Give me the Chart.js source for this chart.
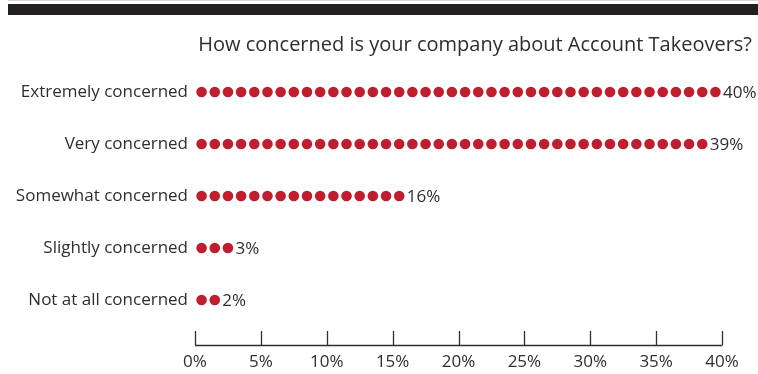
<!DOCTYPE html>
<html>
<head>
<meta charset="utf-8">
<script src="https://cdn.jsdelivr.net/npm/chart.js@4"></script>
<style>
  html, body { margin: 0; padding: 0; background: #fff; }
  #wrap { width: 758px; height: 374px; }
</style>
</head>
<body>
<div id="wrap"><canvas id="concernChart"></canvas></div>
<script>
const categories = ["Extremely concerned", "Very concerned", "Somewhat concerned", "Slightly concerned", "Not at all concerned"]
const shares = [40, 39, 16, 3, 2]
const xTicks = [0, 5, 10, 15, 20, 25, 30, 35, 40]
const title = "How concerned is your company about Account Takeovers?"

const RED = "#be1e2d"
const INK = "#2e2e2e"
const FONT = "'Open Sans', 'Noto Sans', sans-serif"

// one dot per percentage point, centred inside each 1% slot
const dots = []
shares.forEach((v, row) => {
  for (let i = 0; i < v; i++) dots.push({ x: i + 0.5, y: row })
})

const headerPlugin = {
  id: "header",
  beforeDraw(chart) {
    const ctx = chart.ctx
    ctx.save()
    ctx.fillStyle = "#d6d6d6"
    ctx.fillRect(8, 0, 750, 1)
    ctx.fillStyle = "#231f20"
    ctx.fillRect(8, 4, 750, 11)
    ctx.fillStyle = INK
    ctx.font = "20px " + FONT
    ctx.textAlign = "right"
    ctx.textBaseline = "middle"
    ctx.fillText(title, 752, 45)
    ctx.restore()
  }
}

const valueLabels = {
  id: "valueLabels",
  afterDatasetsDraw(chart) {
    const ctx = chart.ctx
    const xs = chart.scales.x, ys = chart.scales.y
    ctx.save()
    ctx.fillStyle = INK
    ctx.font = "17px " + FONT
    ctx.textAlign = "left"
    ctx.textBaseline = "middle"
    shares.forEach((v, row) => {
      ctx.fillText(v + "%", xs.getPixelForValue(v) + 1, ys.getPixelForValue(row) + 1)
    })
    ctx.restore()
  }
}

// tick marks rise from the axis line into the plot
const axisTicks = {
  id: "axisTicks",
  afterDraw(chart) {
    const ctx = chart.ctx
    const xs = chart.scales.x
    const y0 = chart.chartArea.bottom
    ctx.save()
    ctx.strokeStyle = INK
    ctx.lineWidth = 1.3
    ctx.beginPath()
    xTicks.forEach(t => {
      const px = Math.round(xs.getPixelForValue(t)) + 0.5
      ctx.moveTo(px, y0)
      ctx.lineTo(px, y0 - 14)
    })
    ctx.moveTo(xs.getPixelForValue(0), y0 + 0.5)
    ctx.lineTo(xs.getPixelForValue(40) + 0.5, y0 + 0.5)
    ctx.stroke()
    ctx.restore()
  }
}

new Chart(document.getElementById("concernChart"), {
  type: "scatter",
  data: {
    datasets: [{
      data: dots,
      pointRadius: 5.3,
      pointHoverRadius: 5.3,
      pointBackgroundColor: RED,
      pointBorderWidth: 0
    }]
  },
  options: {
    responsive: true,
    maintainAspectRatio: false,
    animation: false,
    layout: { padding: { top: 66, right: 36, left: 0, bottom: 0 } },
    plugins: {
      legend: { display: false },
      tooltip: { enabled: false }
    },
    scales: {
      x: {
        type: "linear",
        min: 0,
        max: 40,
        afterBuildTicks: s => { s.ticks = xTicks.map(v => ({ value: v })) },
        afterFit: s => { s.paddingLeft = 0; s.paddingRight = 0; s.height = 29 },
        grid: { display: false, drawTicks: false },
        border: { display: false },
        ticks: {
          padding: 7,
          color: INK,
          font: { family: FONT, size: 17 },
          callback: v => v + "%"
        }
      },
      y: {
        type: "linear",
        reverse: true,
        min: -0.5,
        max: 4.865,
        afterBuildTicks: s => { s.ticks = categories.map((c, i) => ({ value: i })) },
        afterFit: s => { s.width = 195; s.paddingTop = 0; s.paddingBottom = 0 },
        grid: { display: false, drawTicks: false },
        border: { display: false },
        ticks: {
          padding: 7,
          color: INK,
          font: { family: FONT, size: 17 },
          callback: v => categories[v]
        }
      }
    }
  },
  plugins: [headerPlugin, valueLabels, axisTicks]
})
</script>
</body>
</html>
